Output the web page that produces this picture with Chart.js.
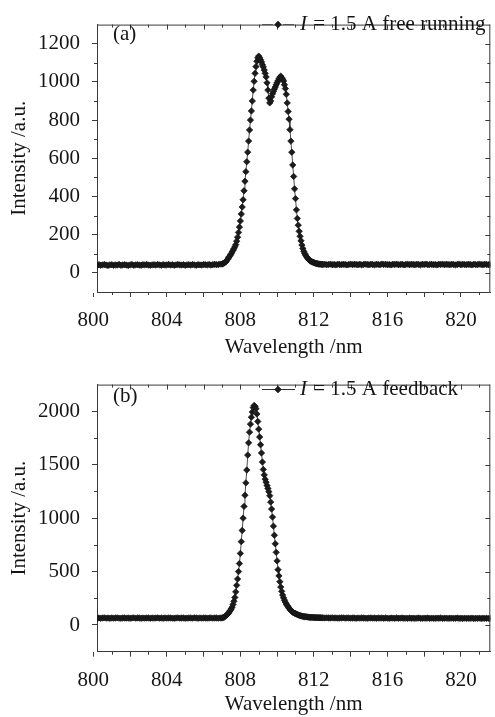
<!DOCTYPE html>
<html><head><meta charset="utf-8">
<script src="https://cdn.jsdelivr.net/npm/chart.js@4/dist/chart.umd.min.js"></script>
<style>
html,body{margin:0;padding:0;background:#fff;}
#wrap{position:relative;width:495px;height:717px;overflow:hidden;background:#fff;}
canvas{position:absolute;left:0;}
#ca{top:0;} #cb{top:360px;}
</style></head><body>
<div id="wrap"><canvas id="ca" width="495" height="360"></canvas><canvas id="cb" width="495" height="357"></canvas></div>
<script>
// ---- data (wavelength in nm, intensity in a.u.) ----
const wavelength = [
800.2,800.3,800.4,800.5,800.6,800.7,800.8,800.9,
801.0,801.1,801.2,801.3,801.4,801.5,801.6,801.7,801.8,801.9,
802.0,802.1,802.2,802.3,802.4,802.5,802.6,802.7,802.8,802.9,
803.0,803.1,803.2,803.3,803.4,803.5,803.6,803.7,803.8,803.9,
804.0,804.1,804.2,804.3,804.4,804.5,804.6,804.7,804.8,804.9,
805.0,805.1,805.2,805.3,805.4,805.5,805.6,805.7,805.8,805.9,
806.0,806.1,806.2,806.3,806.4,806.5,806.6,806.7,806.8,806.9,
807.00,807.05,807.10,807.15,807.20,807.25,807.30,807.35,807.40,807.45,
807.50,807.55,807.60,807.65,807.70,807.75,807.80,807.85,807.90,807.95,
808.00,808.05,808.10,808.15,808.20,808.25,808.30,808.35,808.40,808.45,
808.50,808.55,808.60,808.65,808.70,808.75,808.80,808.85,808.90,808.95,
809.00,809.05,809.10,809.15,809.20,809.25,809.30,809.35,809.40,809.45,
809.50,809.55,809.60,809.65,809.70,809.75,809.80,809.85,809.90,809.95,
810.00,810.05,810.10,810.15,810.20,810.25,810.30,810.35,810.40,810.45,
810.50,810.55,810.60,810.65,810.70,810.75,810.80,810.85,810.90,810.95,
811.00,811.05,811.10,811.15,811.20,811.25,811.30,811.35,811.40,811.45,
811.50,811.55,811.60,811.65,811.70,811.75,811.80,811.85,811.90,811.95,
812.00,812.05,812.10,812.15,812.20,812.25,812.30,812.35,812.40,812.45,
812.5,812.6,812.7,812.8,812.9,
813.0,813.1,813.2,813.3,813.4,813.5,813.6,813.7,813.8,813.9,
814.0,814.1,814.2,814.3,814.4,814.5,814.6,814.7,814.8,814.9,
815.0,815.1,815.2,815.3,815.4,815.5,815.6,815.7,815.8,815.9,
816.0,816.1,816.2,816.3,816.4,816.5,816.6,816.7,816.8,816.9,
817.0,817.1,817.2,817.3,817.4,817.5,817.6,817.7,817.8,817.9,
818.0,818.1,818.2,818.3,818.4,818.5,818.6,818.7,818.8,818.9,
819.0,819.1,819.2,819.3,819.4,819.5,819.6,819.7,819.8,819.9,
820.0,820.1,820.2,820.3,820.4,820.5,820.6,820.7,820.8,820.9,
821.0,821.1,821.2,821.3,821.4,821.5,821.6
];
const freeRunning = [
41,43,40,42,44,41,39,42,
43,40,42,41,44,40,42,43,41,39,
42,44,40,42,43,41,40,43,42,44,
41,40,42,43,41,44,42,40,43,41,
42,44,41,43,40,42,44,42,41,43,
40,42,43,41,44,42,40,43,42,41,
44,43,42,44,41,43,45,43,44,46,
46,48,51,54,57,63,70,78,85,93,
100,109,118,127,137,148,166,187,212,240,
272,308,345,383,430,480,530,582,632,690,
748,800,848,900,957,1003,1045,1080,1108,1126,
1135,1127,1116,1104,1090,1078,1062,1045,1026,995,
957,915,890,900,922,938,950,962,973,985,
996,1006,1016,1025,1030,1022,1014,1005,985,965,
935,890,845,805,750,690,632,565,505,440,
389,330,285,250,218,192,168,146,128,113,
102,93,85,78,72,67,63,60,58,56,
54,52,50,49,48,47,46,46,45,45,
44,45,43,44,46,
43,44,42,45,44,43,45,44,42,44,
46,43,45,44,43,45,42,44,46,44,
43,45,44,42,45,44,43,46,44,45,
43,44,42,45,44,46,43,44,45,42,
44,46,43,45,44,43,45,44,42,45,
44,46,43,44,45,43,44,42,45,44,
46,43,45,44,43,45,44,42,44,46,
43,45,44,43,45,44,42,45,44,43,
46,44,43,45,44,43,44
];
const feedback = [
64,66,63,65,67,64,65,63,
66,64,65,67,64,63,66,65,64,66,
63,65,67,64,65,66,63,65,64,66,
65,63,66,64,65,67,64,65,63,66,
64,65,66,64,63,65,67,64,66,65,
63,64,66,65,64,67,65,63,66,64,
65,66,64,65,67,64,66,65,64,66,
66,68,72,78,85,92,100,110,122,136,
150,167,192,222,258,310,371,430,500,575,
670,780,885,1000,1110,1215,1330,1450,1590,1705,
1805,1880,1945,1994,2035,2055,2045,2025,1975,1905,
1833,1760,1687,1610,1525,1455,1405,1365,1336,1305,
1278,1248,1210,1150,1085,1010,925,840,760,680,
600,518,460,405,355,315,280,254,232,213,
197,182,170,158,146,136,127,120,114,110,
106,102,98,94,91,88,85,83,81,79,
78,77,76,75,74,73,72,72,71,71,
70,70,69,69,69,68,68,68,67,67,
67,66,67,65,66,
67,65,66,64,66,65,67,64,66,65,
64,66,65,63,66,64,65,66,64,63,
65,66,64,65,63,65,64,66,63,65,
64,62,65,64,63,65,63,64,66,63,
64,62,65,63,64,62,64,65,63,62,
64,63,65,62,64,63,62,64,63,65,
62,63,64,62,63,64,62,63,65,62,
63,61,64,62,63,62,64,61,63,62,
64,61,63,62,63,62,61
];
const xMajorTicks = [800,802,804,806,808,810,812,814,816,818,820];
const xMinorTicks = [801,803,805,807,809,811,813,815,817,819,821];
const xTickLabels = [800,804,808,812,816,820];
const yTicksA = [0,200,400,600,800,1000,1200];
const yMinorA = [100,300,500,700,900,1100];
const yTicksB = [0,500,1000,1500,2000];
const yMinorB = [250,750,1250,1750];
const seriesNames = ['free running','feedback'];

const FONT = "'Liberation Serif','Times New Roman',serif";
const INK = '#151515';
const AXIS = '#3a3a3a';

const framePlugin = {
  id: 'frame',
  afterDraw(chart, args, o) {
    const {ctx, chartArea: a, scales: {x, y}} = chart;
    ctx.save();
    ctx.strokeStyle = AXIS; ctx.lineWidth = 1;
    ctx.beginPath();
    ctx.moveTo(a.left, a.top + 0.5); ctx.lineTo(a.right, a.top + 0.5);
    ctx.moveTo(a.right - 0.5, a.top); ctx.lineTo(a.right - 0.5, a.bottom);
    for (const v of xMajorTicks) {
      if (v < x.min || v > x.max) continue;
      const p = Math.round(x.getPixelForValue(v)) + 0.5;
      ctx.moveTo(p, a.top); ctx.lineTo(p, a.top + 5);
    }
    for (const v of xMinorTicks) {
      if (v < x.min || v > x.max) continue;
      const p = Math.round(x.getPixelForValue(v)) + 0.5;
      ctx.moveTo(p, a.bottom); ctx.lineTo(p, a.bottom + 3);
      ctx.moveTo(p, a.top); ctx.lineTo(p, a.top + 3);
    }
    for (const v of o.major) {
      const p = Math.round(y.getPixelForValue(v)) + 0.5;
      ctx.moveTo(a.right, p); ctx.lineTo(a.right - 5, p);
    }
    for (const v of o.minor) {
      const p = Math.round(y.getPixelForValue(v)) + 0.5;
      ctx.moveTo(a.left, p); ctx.lineTo(a.left - 3, p);
      ctx.moveTo(a.right, p); ctx.lineTo(a.right - 3, p);
    }
    ctx.stroke();

    // legend (inside plot, top-right)
    const ly = o.legendY;
    ctx.save();
    ctx.strokeStyle = o.legendLine; ctx.lineWidth = 1.2;
    ctx.beginPath();
    if (o.dashed) {
      ctx.moveTo(262, ly + 0.5); ctx.lineTo(273, ly + 0.5);
      ctx.moveTo(283, ly + 0.5); ctx.lineTo(294, ly + 0.5);
    } else {
      ctx.moveTo(262, ly + 0.5); ctx.lineTo(295, ly + 0.5);
    }
    ctx.stroke();
    ctx.restore();
    ctx.fillStyle = '#1c1c1c'; ctx.strokeStyle = '#111';
    ctx.lineWidth = 0.6;
    Chart.helpers.drawPoint(ctx, {pointStyle: 'rectRot', radius: 3.4, borderWidth: 0.6}, 278, ly + 0.5);
    ctx.fillStyle = INK;
    ctx.textBaseline = 'middle';
    ctx.textAlign = 'left';
    ctx.font = 'italic 21px ' + FONT;
    ctx.fillText('I', 300, ly);
    const wI = ctx.measureText('I').width;
    ctx.font = '21px ' + FONT;
    ctx.fillText(' = 1.5 A ' + o.name, 300 + wI + 1, ly);
    // panel label
    ctx.fillText(o.panel, 113, o.panelY);
    ctx.restore();
  }
};

function makeChart(id, values, opt) {
  return new Chart(document.getElementById(id), {
    type: 'line',
    data: {
      datasets: [{
        label: 'I = 1.5 A ' + opt.name,
        data: wavelength.map((w, i) => ({x: w, y: values[i]})),
        borderColor: '#3a3a3a',
        borderWidth: 0.9,
        pointStyle: 'rectRot',
        pointRadius: 3.2,
        pointBackgroundColor: '#1c1c1c',
        pointBorderColor: '#111',
        pointBorderWidth: 0.7,
        tension: 0
      }]
    },
    options: {
      responsive: false,
      animation: false,
      devicePixelRatio: 1,
      layout: {padding: {left: 0, right: 1, top: 5, bottom: 0}},
      plugins: {
        legend: {display: false},
        tooltip: {enabled: false},
        frame: opt.frame
      },
      scales: {
        x: {
          type: 'linear', position: 'bottom',
          min: 800.2, max: 821.6,
          afterBuildTicks: s => { s.ticks = xMajorTicks.map(v => ({value: v})); },
          afterFit: s => { s.height = opt.xHeight; },
          ticks: {
            autoSkip: false, maxRotation: 0, padding: 11, color: INK,
            font: {family: FONT, size: 21},
            callback: v => xTickLabels.includes(v) ? String(v) : ''
          },
          grid: {drawOnChartArea: false, drawTicks: true, tickLength: 5, tickColor: AXIS},
          border: {display: true, color: AXIS, width: 1},
          title: {display: true, text: 'Wavelength /nm', color: INK,
                  font: {family: FONT, size: 21}, padding: {top: 0, bottom: 0}}
        },
        y: {
          type: 'linear', position: 'left',
          min: opt.yMin, max: opt.yMax,
          afterBuildTicks: s => { s.ticks = opt.yTicks.map(v => ({value: v})); },
          afterFit: s => { s.width = 97; },
          ticks: {autoSkip: false, padding: 12, color: INK, font: {family: FONT, size: 21},
                  callback: v => String(v)},
          grid: {drawOnChartArea: false, drawTicks: true, tickLength: 5, tickColor: AXIS},
          border: {display: true, color: AXIS, width: 1},
          title: {display: true, text: 'Intensity /a.u.', color: INK,
                  font: {family: FONT, size: 21}, padding: {top: 7, bottom: 0}}
        }
      }
    },
    plugins: [framePlugin]
  });
}

makeChart('ca', freeRunning, {
  name: seriesNames[0], xHeight: 68, yMin: -100, yMax: 1300, yTicks: yTicksA,
  frame: {major: yTicksA, minor: yMinorA, legendY: 24, legendLine: '#555', dashed: true,
          name: seriesNames[0], panel: '(a)', panelY: 34}
});
makeChart('cb', feedback, {
  name: seriesNames[1], xHeight: 65.3, yMin: -250, yMax: 2250, yTicks: yTicksB,
  frame: {major: yTicksB, minor: yMinorB, legendY: 29, legendLine: '#333', dashed: false,
          name: seriesNames[1], panel: '(b)', panelY: 36}
});
</script>
</body></html>
